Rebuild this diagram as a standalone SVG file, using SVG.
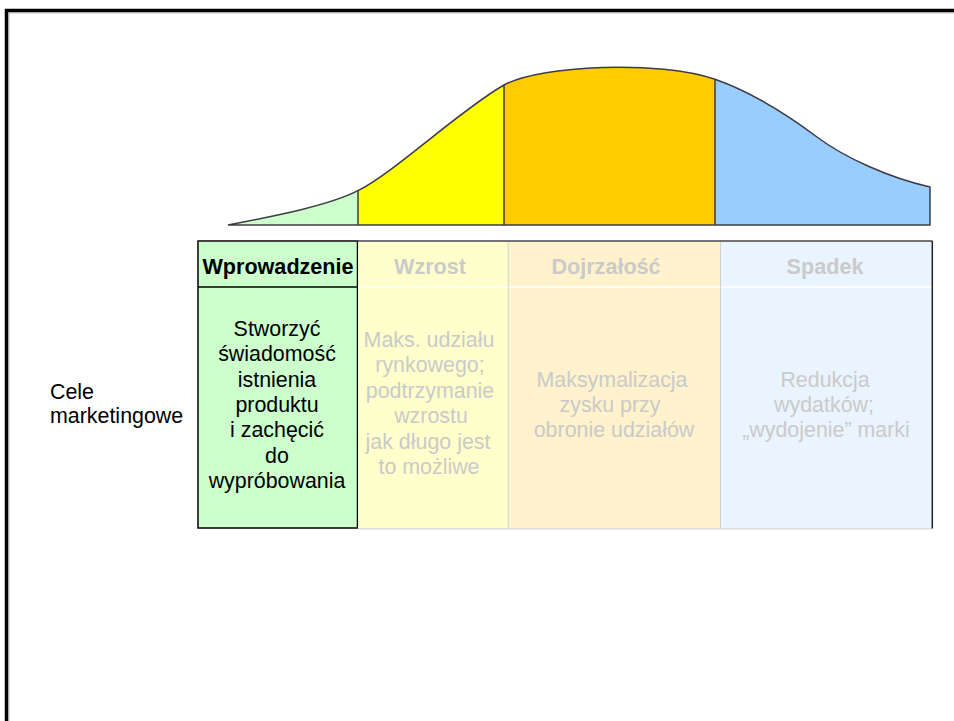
<svg xmlns="http://www.w3.org/2000/svg" width="954" height="721" viewBox="0 0 954 721">
<style>
text{font-family:"Liberation Sans",Arial,sans-serif;font-size:21.4px;text-anchor:middle}
.hd{font-weight:bold;font-size:21.6px}
.dim{fill:#CACACA}
.blk{fill:#000}
.ol{fill:none;stroke:#3C3C44;stroke-width:1.5}
</style>
<defs>
<path id="area" d="M228,225 C280,215 330,205 358,190.7 C395,172 460,110 504,85 C540,65 660,60 715,79.3 C750,91.6 785,113 817,137 C845,158 890,178 930,187 L930,225 Z"/>
<clipPath id="c1"><rect x="220" y="50" width="138" height="180"/></clipPath>
<clipPath id="c2"><rect x="358" y="50" width="146" height="180"/></clipPath>
<clipPath id="c3"><rect x="504" y="50" width="211" height="180"/></clipPath>
<clipPath id="c4"><rect x="715" y="50" width="220" height="180"/></clipPath>
</defs>
<rect width="954" height="721" fill="#fff"/>
<g id="frame">
<path d="M6.5,721 V10.5 H954" fill="none" stroke="#000" stroke-width="3.5"/>
<path d="M8.8,721 V12.8 H954" fill="none" stroke="#A0A0A0" stroke-width="1"/>
</g>
<g id="curve">
<use href="#area" fill="#CCFFCC" clip-path="url(#c1)"/>
<use href="#area" fill="#FFFF00" clip-path="url(#c2)"/>
<use href="#area" fill="#FFCC00" clip-path="url(#c3)"/>
<use href="#area" fill="#99CCFF" clip-path="url(#c4)"/>
<use href="#area" class="ol"/>
<path class="ol" d="M358,190.7 V225 M504,85 V225 M715,79.3 V225"/>
</g>
<g id="stage-intro">
<rect x="198" y="241" width="159.5" height="287" fill="#CCFFCC" stroke="#000" stroke-width="1.5"/>
<line x1="198" y1="287" x2="357.5" y2="287" stroke="#000" stroke-width="1.5"/>
<text class="hd blk" x="278" y="274">Wprowadzenie</text>
<text class="blk" x="277" y="336">Stworzyć</text>
<text class="blk" x="277" y="361.3">świadomość</text>
<text class="blk" x="277" y="386.6">istnienia</text>
<text class="blk" x="277" y="411.9">produktu</text>
<text class="blk" x="277" y="437.2">i zachęcić</text>
<text class="blk" x="277" y="462.5">do</text>
<text class="blk" x="277" y="487.8">wypróbowania</text>
</g>
<g id="stage-growth">
<rect x="358.2" y="241.7" width="150" height="286.5" fill="#FFFFCC"/>
<text class="hd dim" x="430" y="274">Wzrost</text>
<text class="dim" x="429" y="346.5">Maks. udziału</text>
<text class="dim" x="430" y="372">rynkowego;</text>
<text class="dim" x="430" y="397.5">podtrzymanie</text>
<text class="dim" x="431" y="423">wzrostu</text>
<text class="dim" x="428" y="448.5">jak długo jest</text>
<text class="dim" x="429" y="474">to możliwe</text>
</g>
<g id="stage-maturity">
<rect x="508.2" y="241.7" width="212.3" height="286.5" fill="#FFF2CC"/>
<text class="hd dim" x="606" y="274">Dojrzałość</text>
<text class="dim" x="612" y="387">Maksymalizacja</text>
<text class="dim" x="610" y="412">zysku przy</text>
<text class="dim" x="614" y="437">obronie udziałów</text>
</g>
<g id="stage-decline">
<rect x="720.5" y="241.7" width="211.5" height="286.5" fill="#EAF4FF"/>
<text class="hd dim" x="825" y="274">Spadek</text>
<text class="dim" x="825" y="387">Redukcja</text>
<text class="dim" x="824" y="412">wydatków;</text>
<text class="dim" x="826" y="437">„wydojenie” marki</text>
</g>
<g id="table-lines">
<line x1="358.2" y1="287" x2="932" y2="287" stroke="#fff" stroke-width="1.5"/>
<line x1="508.2" y1="241.5" x2="508.2" y2="528.5" stroke="#D0D0D0" stroke-width="1"/>
<line x1="720.5" y1="241.5" x2="720.5" y2="528.5" stroke="#D0D0D0" stroke-width="1"/>
<line x1="358.5" y1="528.8" x2="932" y2="528.8" stroke="#CDCDCD" stroke-width="1"/>
<line x1="198" y1="241" x2="932.5" y2="241" stroke="#444" stroke-width="1.5"/>
<line x1="932.3" y1="241" x2="932.3" y2="528.5" stroke="#222" stroke-width="1.5"/>
</g>
<g id="row-label">
<text x="50" y="399" style="text-anchor:start">Cele</text>
<text x="50" y="423" style="text-anchor:start">marketingowe</text>
</g>
</svg>
